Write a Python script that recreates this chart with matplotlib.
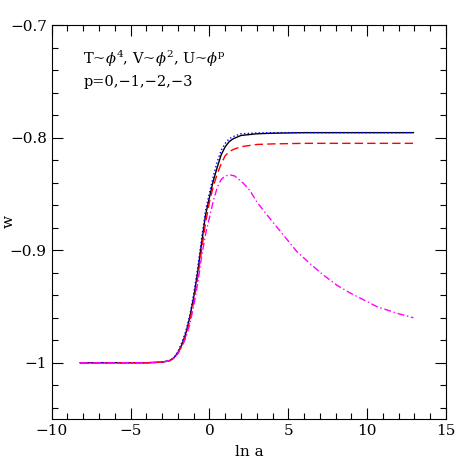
import numpy as np
import matplotlib
matplotlib.use("Agg")
import matplotlib.pyplot as plt
from matplotlib.ticker import MultipleLocator

# values
x_p0 = [-8.2, -4, -3, -2.5, -2.25, -2, -1.75, -1.5, -1.25, -1.0, -0.75, -0.5, -0.25,
        0, 0.25, 0.5, 0.75, 1.0, 1.25, 1.5, 2, 3, 4, 6, 9, 12.93]
w_p0 = [-1.0, -1.0, -0.9995, -0.998, -0.9955, -0.991, -0.984, -0.974, -0.960, -0.942,
        -0.920, -0.894, -0.869, -0.853, -0.838, -0.826, -0.815, -0.808, -0.8035, -0.801,
        -0.798, -0.7965, -0.796, -0.7955, -0.7955, -0.7955]

x_p1 = x_p0
w_p1 = [-1.0, -1.0, -0.9995, -0.998, -0.9955, -0.990, -0.982, -0.972, -0.958, -0.939,
        -0.916, -0.890, -0.865, -0.849, -0.834, -0.821, -0.811, -0.805, -0.801, -0.799,
        -0.7965, -0.7958, -0.7955, -0.7955, -0.7955, -0.7955]

x_p2 = x_p0
w_p2 = [-1.0, -1.0, -0.9995, -0.998, -0.9958, -0.9915, -0.985, -0.976, -0.963, -0.946,
        -0.925, -0.900, -0.876, -0.857, -0.843, -0.832, -0.823, -0.816, -0.8125, -0.8105,
        -0.808, -0.806, -0.8055, -0.805, -0.805, -0.805]

x_p3 = [-8.2, -4, -3, -2.5, -2.25, -2, -1.75, -1.5, -1.25, -1.0, -0.75, -0.5, -0.25,
        0, 0.25, 0.5, 0.75, 1.0, 1.3, 1.6, 2.15, 2.57, 3.0, 3.84, 4.69, 5.53,
        6.38, 7.22, 8.07, 8.92, 9.76, 10.6, 11.88, 12.93]
w_p3 = [-1.0, -1.0, -0.9995, -0.998, -0.996, -0.992, -0.986, -0.978, -0.966, -0.950,
        -0.930, -0.906, -0.886, -0.871, -0.856, -0.844, -0.837, -0.834, -0.833, -0.834,
        -0.8405, -0.847, -0.857, -0.872, -0.8865, -0.901, -0.912, -0.922, -0.931,
        -0.938, -0.944, -0.950, -0.956, -0.960]

plt.rcParams['font.family'] = 'DejaVu Serif'
plt.rcParams['mathtext.fontset'] = 'dejavuserif'

fig = plt.figure(figsize=(4.71, 4.71), dpi=100)
ax = fig.add_axes([0.1098, 0.1104, 0.8372, 0.8361])

ax.plot(x_p0, w_p0, color='black', lw=1.0, ls='-')
ax.plot(x_p1, w_p1, color='blue', lw=1.0, ls=':')
ax.plot(x_p2, w_p2, color='red', lw=1.0, ls=(0, (6, 3)))
ax.plot(x_p3, w_p3, color='magenta', lw=1.0, ls=(0, (5, 2, 1, 2)))

ax.set_xlim(-10, 15)
ax.set_ylim(-1.05, -0.7)
ax.xaxis.set_minor_locator(MultipleLocator(1))
ax.yaxis.set_minor_locator(MultipleLocator(0.02))
ax.set_xticks([-10, -5, 0, 5, 10, 15])
ax.set_xticklabels(['\u221210', '\u22125', '0', '5', '10', '15'])
ax.set_yticks([-1.0, -0.9, -0.8, -0.7])
ax.set_yticklabels(['\u22121', '\u22120.9', '\u22120.8', '\u22120.7'])
ax.tick_params(which='both', direction='in', top=True, right=True, labelsize=11)
ax.tick_params(which='major', length=8, width=0.8)
ax.tick_params(which='minor', length=4, width=0.8)

ax.set_xlabel('ln a', fontsize=11, labelpad=5)
fig.text(9.0 / 471, 1 - 222.0 / 471, 'w', rotation=90, fontsize=11,
         ha='center', va='center')

ax.text(0.08, 0.915, r'T~$\phi^4$, V~$\phi^2$, U~$\phi^\mathrm{p}$', transform=ax.transAxes,
        fontsize=10.5, va='center')
ax.text(0.08, 0.857, 'p=0,\u22121,\u22122,\u22123', transform=ax.transAxes,
        fontsize=10.5, va='center')

fig.savefig('out.png', dpi=100)
